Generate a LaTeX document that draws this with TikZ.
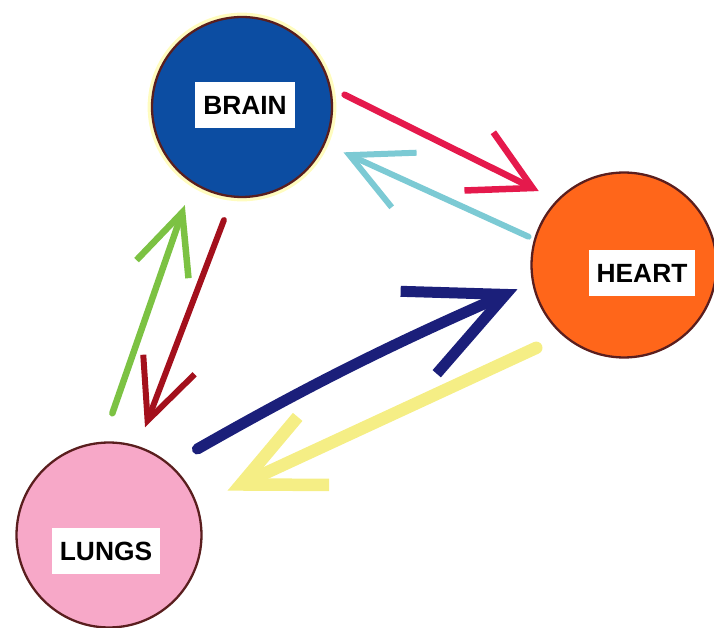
\documentclass[tikz,border=0pt]{standalone}
\usepackage{fontspec}
\setmainfont{Liberation Sans}
\usetikzlibrary{arrows.meta}
\definecolor{organline}{HTML}{5A1E1E}
\definecolor{brainblue}{HTML}{0C4DA2}
\definecolor{heartorange}{HTML}{FF661A}
\definecolor{lungpink}{HTML}{F7A8C8}
\definecolor{flowred}{HTML}{E5194C}
\definecolor{flowcyan}{HTML}{7CCAD4}
\definecolor{flowgreen}{HTML}{7CC243}
\definecolor{flowdark}{HTML}{A3101C}
\definecolor{flownavy}{HTML}{1B1F7A}
\definecolor{flowyellow}{HTML}{F5EE85}

\begin{document}
\begin{tikzpicture}[x=0.02cm,y=-0.02cm,font=\bfseries\fontsize{15}{18}\selectfont,
  organ/.style={draw=organline,line width=1.3pt,circle,minimum size=3.7cm,inner sep=0pt},
  tag/.style={fill=white,inner xsep=0.16cm,minimum height=0.92cm},
  flow/.style={line width=#1,line cap=round,line join=round},flow/.default=0.13cm]
\useasboundingbox (0,0) rectangle (714,628);
\node[organ,fill=brainblue,minimum size=3.6cm,preaction={draw=yellow!25,line width=5pt}] (brain) at (242,107) {};
\node[organ,fill=heartorange] (heart) at (624,265) {};
\node[organ,fill=lungpink] (lungs) at (109,535) {};
\node[tag] (brainlbl) at (245,105) {BRAIN};
\node[tag] (heartlbl) at (642,273) {HEART};
\node[tag] (lungslbl) at (106,551) {LUNGS};
% brain <-> heart
\draw[flow,flowred,shorten <=0.3cm,shorten >=0.4cm,-{Straight Barb[length=1.2cm,width=1.3cm]}] (brain.12) -- (heart.136);
\draw[flow=0.12cm,flowcyan,shorten <=0.12cm,shorten >=0.4cm,-{Straight Barb[length=1.2cm,width=1.2cm]}] (heart.164) -- (brain.-24);
% brain <-> lungs
\draw[flow,flowgreen,shorten <=0.6cm,shorten >=0.46cm,-{Straight Barb[length=1.2cm,width=1.1cm]}] (lungs.94) -- (brain.237);
\draw[flow=0.12cm,flowdark,shorten <=0.48cm,shorten >=0.4cm,-{Straight Barb[length=1.2cm,width=1.1cm]}] (brain.264) -- (lungs.72);
% heart <-> lungs
\draw[flow=0.22cm,flownavy,shorten <=0.62cm,shorten >=0.32cm,-{Straight Barb[length=1.9cm,width=1.8cm]}] (lungs.49) to[bend left=3] (heart.191);
\draw[flow=0.25cm,flowyellow,shorten <=0.58cm,shorten >=0.66cm,-{Straight Barb[length=1.6cm,width=1.5cm]}] (heart.229) -- (lungs.19);
\end{tikzpicture}
\end{document}
